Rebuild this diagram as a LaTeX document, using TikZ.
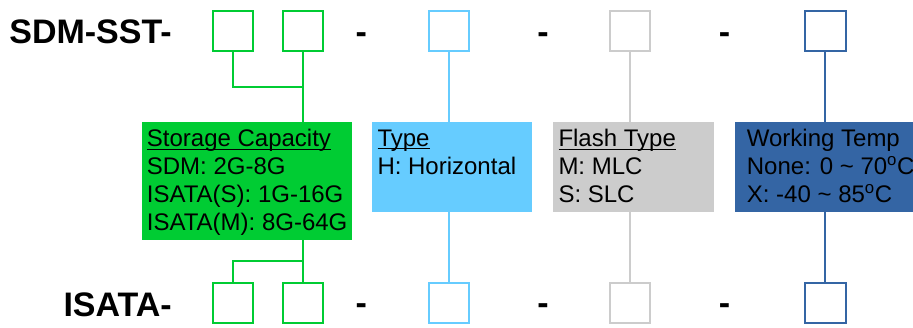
\documentclass[tikz,border=0pt]{standalone}
\usepackage{fontspec}
\setmainfont{Liberation Sans}
\definecolor{cgreen}{HTML}{00CC33}
\definecolor{clblue}{HTML}{66CCFF}
\definecolor{cgray}{HTML}{CCCCCC}
\definecolor{cdblue}{HTML}{3465A4}
\newcommand\myul[1]{\setbox0\hbox{#1}\rlap{\rule[-3.3pt]{\wd0}{1.2pt}}\box0}
\begin{document}
\begin{tikzpicture}[x=1pt,y=-1pt,
  cell/.style={draw=#1,line width=2pt,minimum width=40.3pt,minimum height=39.8pt,inner sep=0pt},
  infobox/.style={fill=#1,draw=none,inner sep=0pt},
  infotext/.style={anchor=north west,inner sep=0pt,align=left,font=\fontsize{24}{28}\selectfont},
  conn/.style={draw=#1,line width=2pt},
  big/.style={inner sep=0pt,font=\fontsize{34}{40}\selectfont\bfseries},
]
\useasboundingbox (0,0) rectangle (913,327);

% labels
\node[big,anchor=base east] (sdm) at (172,43) {SDM-SST-};
\node[big,anchor=base east] (isata) at (172,316) {ISATA-};

% top cells
\node[cell=cgreen] (t1) at (232.85,31.15) {};
\node[cell=cgreen] (t2) at (302.7,31.15) {};
\node[cell=clblue] (t3) at (449,31.15) {};
\node[cell=cgray]  (t4) at (630.3,31.15) {};
\node[cell=cdblue] (t5) at (825.4,31.15) {};

% bottom cells
\node[cell=cgreen] (b1) at (232.85,302.85) {};
\node[cell=cgreen] (b2) at (302.7,302.85) {};
\node[cell=clblue] (b3) at (449,302.85) {};
\node[cell=cgray]  (b4) at (630.3,302.85) {};
\node[cell=cdblue] (b5) at (825.4,302.85) {};

% dashes
\node[big,anchor=base] (dt1) at (361.3,43) {-};
\node[big,anchor=base] (dt2) at (543,43) {-};
\node[big,anchor=base] (dt3) at (724.5,43) {-};
\node[big,anchor=base] (db1) at (361.3,314) {-};
\node[big,anchor=base] (db2) at (543,314) {-};
\node[big,anchor=base] (db3) at (724.5,314) {-};

% info boxes
\node[infobox=cgreen,minimum width=209.4pt,minimum height=118pt] (cap) at (247,181) {};
\node[infobox=clblue,minimum width=160pt,minimum height=89.7pt] (typ) at (452.3,166.85) {};
\node[infobox=cgray,minimum width=160.4pt,minimum height=89.7pt] (fla) at (633.5,166.85) {};
\node[infobox=cdblue,minimum width=178.3pt,minimum height=89.7pt] (tmp) at (823.85,166.85) {};

\node[infotext] (capt) at (146.7,129.3) {\myul{Storage Capacity}\\SDM: 2G-8G\\ISATA(S): 1G-16G\\ISATA(M): 8G-64G};
\node[infotext] (typt) at (377.3,129.3) {\myul{Type}\\H: Horizontal};
\node[infotext] (flat) at (558.3,129.3) {\myul{Flash Type}\\M: MLC\\S: SLC};
\node[infotext] (tmpt) at (746.7,129.3) {Working Temp\\None: 0 \textasciitilde{} 70\textsuperscript{o}C\\X: -40 \textasciitilde{} 85\textsuperscript{o}C};

% connectors
\coordinate (jt) at (302.7,87);
\coordinate (jb) at (302.7,261);
\draw[conn=cgreen] (t1.south) |- (jt);
\draw[conn=cgreen] (t2.south) -- (t2.south |- cap.north);
\draw[conn=clblue] (t3.south) -- (t3.south |- typ.north);
\draw[conn=cgray]  (t4.south) -- (t4.south |- fla.north);
\draw[conn=cdblue] (t5.south) -- (t5.south |- tmp.north);

\draw[conn=cgreen] (b2.north |- cap.south) -- (b2.north);
\draw[conn=cgreen] (b1.north) |- (jb);
\draw[conn=clblue] (b3.north |- typ.south) -- (b3.north);
\draw[conn=cgray]  (b4.north |- fla.south) -- (b4.north);
\draw[conn=cdblue] (b5.north |- tmp.south) -- (b5.north);
\end{tikzpicture}
\end{document}
